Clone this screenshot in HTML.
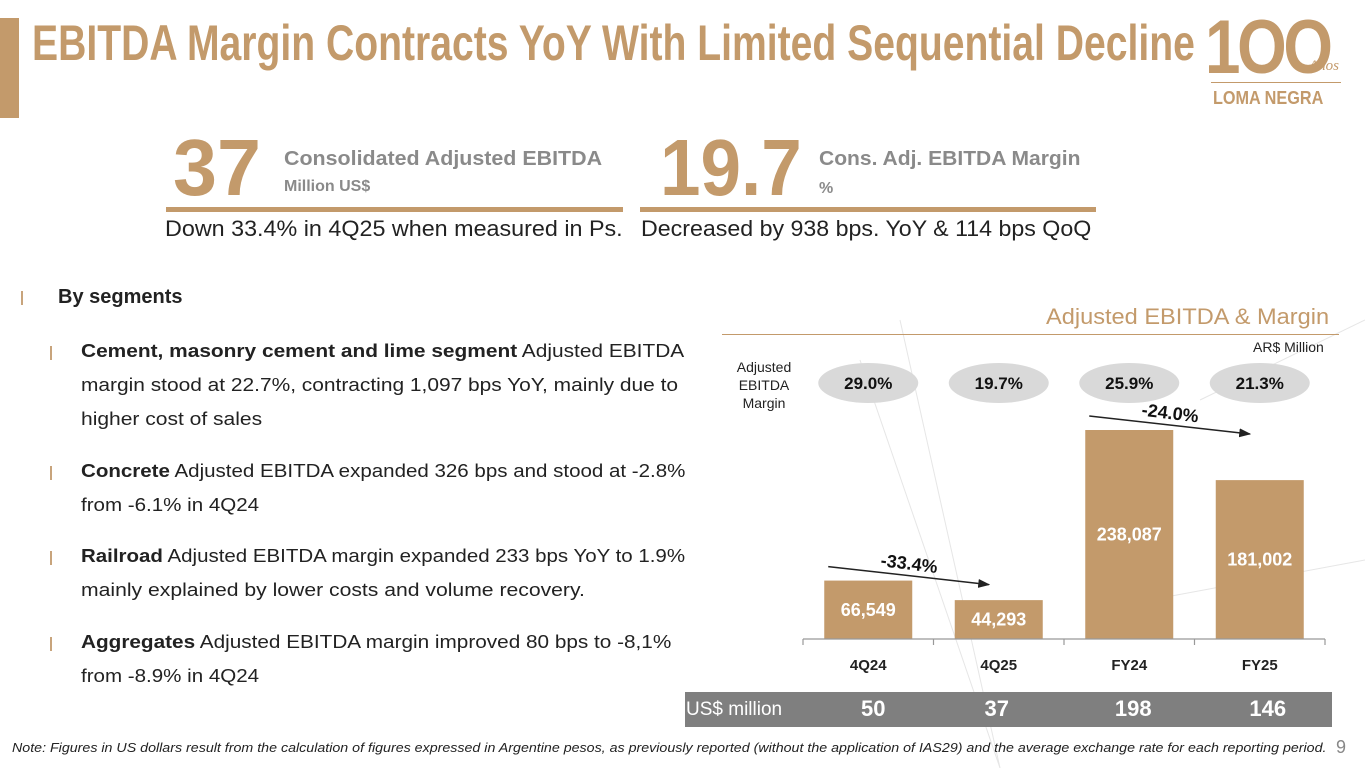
<!DOCTYPE html>
<html><head><meta charset="utf-8">
<style>
body{margin:0;width:1365px;height:768px;overflow:hidden;background:#fff;font-family:"Liberation Sans",sans-serif;position:relative}
.a{position:absolute;white-space:nowrap}
.fit{transform-origin:0 0}
.gold{color:#c39a6b}
.bul{position:absolute;width:2px;height:14px;background:#c8a47c}
.txt{font-size:18px;color:#222}
</style></head><body>
<div class="a" style="left:0;top:18px;width:19px;height:100px;background:#c39a6b"></div>
<div class="a fit gold" data-w="1163" style="left:32px;top:14px;font-size:50px;font-weight:bold">EBITDA Margin Contracts YoY With Limited Sequential Decline</div>
<div class="a" style="left:1205px;top:8px;width:155px;height:100px">
  <div class="a gold fit" data-w="125" style="left:0;top:-4px;font-size:76px;font-weight:bold;letter-spacing:-4px">1OO</div>
  <div class="a gold" style="left:104px;top:50px;font-size:15px;font-style:italic;font-family:'Liberation Serif',serif">Años</div>
  <div class="a" style="left:6px;top:74px;width:130px;height:1px;background:#c39a6b"></div>
  <div class="a gold fit" data-w="110" style="left:8px;top:80px;font-size:18px;font-weight:bold">LOMA NEGRA</div>
</div>

<div class="a fit gold" data-w="88" style="left:173px;top:128px;font-size:80px;font-weight:bold;line-height:1">37</div>
<div class="a fit" data-w="318" style="left:284px;top:148px;font-size:20px;font-weight:bold;color:#8a8a8a">Consolidated Adjusted EBITDA</div>
<div class="a" style="left:284px;top:178px;font-size:16px;font-weight:bold;color:#8a8a8a">Million US$</div>
<div class="a" style="left:166px;top:207px;width:457px;height:5px;background:#c39a6b"></div>
<div class="a fit" data-w="458" style="left:165px;top:216px;font-size:22px;color:#222">Down 33.4% in 4Q25 when measured in Ps.</div>

<div class="a fit gold" data-w="142" style="left:660px;top:128px;font-size:80px;font-weight:bold;line-height:1">19.7</div>
<div class="a fit" data-w="262" style="left:819px;top:148px;font-size:20px;font-weight:bold;color:#8a8a8a">Cons. Adj. EBITDA Margin</div>
<div class="a" style="left:819px;top:180px;font-size:16px;font-weight:bold;color:#8a8a8a">%</div>
<div class="a" style="left:640px;top:207px;width:456px;height:5px;background:#c39a6b"></div>
<div class="a fit" data-w="450" style="left:641px;top:216px;font-size:22px;color:#222">Decreased by 938 bps. YoY &amp; 114 bps QoQ</div>

<div class="bul" style="left:21px;top:291px"></div>
<div class="a" style="left:58px;top:286px;font-size:20px;font-weight:bold;color:#222">By segments</div>
<div id="bullets"></div>

<svg class="a" style="left:0;top:0" width="1365" height="768">
  <g stroke="#e6e6e6" stroke-width="1" fill="none">
    <line x1="860" y1="360" x2="1000" y2="768"/><line x1="1000" y1="768" x2="900" y2="320"/>
    <line x1="1365" y1="560" x2="1150" y2="600"/><line x1="1365" y1="320" x2="1200" y2="400"/>
  </g>
  <g id="chartg"></g>
</svg>
<div class="a fit" data-w="283" style="left:1046px;top:304px;font-size:22px;color:#c39a6b">Adjusted EBITDA &amp; Margin</div>
<div class="a" style="left:722px;top:334px;width:617px;height:1px;background:#c39a6b"></div>
<div class="a" style="left:1253px;top:339px;font-size:14px;color:#222">AR$ Million</div>
<div class="a" style="left:724px;top:358px;width:80px;text-align:center;font-size:14px;line-height:18px;color:#222;white-space:normal">Adjusted<br>EBITDA<br>Margin</div>
<div class="a" style="left:685px;top:692px;width:647px;height:35px;background:#7f7f7f"></div>
<div class="a" style="left:686px;top:699px;font-size:19px;color:#fff">US$ million</div>
<div id="usd"></div>
<div class="a fit" data-w="1315" style="left:12px;top:740px;font-size:13px;font-style:italic;color:#222">Note: Figures in US dollars result from the calculation of figures expressed in Argentine pesos, as previously reported (without the application of IAS29) and the average exchange rate for each reporting period.</div>
<div class="a" style="left:1336px;top:737px;font-size:18px;color:#888">9</div>

<script>
const categories=["4Q24","4Q25","FY24","FY25"];
const ebitdaValues=[66549,44293,238087,181002];
const marginLabels=["29.0%","19.7%","25.9%","21.3%"];
const usdValues=[50,37,198,146];
const changeLabels=["-33.4%","-24.0%"];

const NS="http://www.w3.org/2000/svg";
const g=document.getElementById('chartg');
const x0=803,band=130.5,base=639,ymax=238087,hmax=209,barW=88;
function xc(i){return x0+band*(i+0.5);}
function yv(v){return base-v/ymax*hmax;}
function mk(t,a){const e=document.createElementNS(NS,t);for(const k in a)e.setAttribute(k,a[k]);g.appendChild(e);return e;}
categories.forEach((c,i)=>{
  const r=mk('rect',{x:xc(i)-barW/2,y:yv(ebitdaValues[i]),width:barW,height:base-yv(ebitdaValues[i]),fill:'#c39a6b'});
  
  
  const ly=(yv(ebitdaValues[i])+base)/2;
  const t=mk('text',{x:xc(i),y:ly+6,'text-anchor':'middle',fill:'#fff','font-size':18,'font-weight':'bold'});
  t.textContent=ebitdaValues[i].toLocaleString('en-US');
  
  
  const l=mk('text',{x:xc(i),y:670,'text-anchor':'middle',fill:'#222','font-size':15,'font-weight':'bold'});
  l.textContent=c;
  
  
  const el=mk('ellipse',{cx:xc(i),cy:383,rx:50,ry:20,fill:'#d9d9d9'});
  
  
  const m=mk('text',{x:xc(i),y:389,'text-anchor':'middle',fill:'#111','font-size':17,'font-weight':'bold'});
  m.textContent=marginLabels[i];
  
  
});
const ax=mk('path',{d:`M${x0} ${base}H${x0+band*4}`+[0,1,2,3,4].map(k=>`M${x0+band*k} ${base}v6`).join(''),stroke:'#999','stroke-width':1.2,fill:'none'});


mk('defs',{}).innerHTML='<marker id="ah" markerWidth="8" markerHeight="8" refX="7" refY="4" orient="auto"><path d="M0,1L8,4L0,7z" fill="#222"/></marker>';
[[0,1],[2,3]].forEach((p,k)=>{
  const y1=yv(ebitdaValues[p[0]])-14, y2=y1+18;
  const x1=xc(p[0])-40,x2=xc(p[1])-10;
  const ln=mk('line',{x1:x1,y1:y1,x2:x2,y2:y2,stroke:'#222','stroke-width':1.5,'marker-end':'url(#ah)'});
  
  
  const tx=(x1+x2)/2,ty=(y1+y2)/2-6;
  const t=mk('text',{x:tx,y:ty,'text-anchor':'middle',fill:'#111','font-size':18,'font-weight':'bold',transform:`rotate(7 ${tx} ${ty})`});
  t.textContent=changeLabels[k];
  
  
});
const ud=document.getElementById('usd');
usdValues.forEach((v,i)=>{
  const d=document.createElement('div');
  d.className='a';
  d.style.cssText=`left:${xc(i)-50+(i==0?5:i==1?-2:i==2?4:8)}px;top:696px;width:100px;text-align:center;font-size:22px;font-weight:bold;color:#fff`;
  d.textContent=v;
  
  
  ud.appendChild(d);
});
const bl=document.getElementById('bullets');
const items=[
 [["<b>Cement, masonry cement and lime segment</b> Adjusted EBITDA",603],["margin stood at 22.7%, contracting 1,097 bps YoY, mainly due to",597],["higher cost of sales",181]],
 [["<b>Concrete</b> Adjusted EBITDA expanded 326 bps and stood at -2.8%",604],["from -6.1% in 4Q24",178]],
 [["<b>Railroad</b> Adjusted EBITDA margin expanded 233 bps YoY to 1.9%",604],["mainly explained by lower costs and volume recovery.",504]],
 [["<b>Aggregates</b> Adjusted EBITDA margin improved 80 bps to -8,1%",590],["from -8.9% in 4Q24",178]]
];
const tops=[341,461,546,632];
items.forEach((it,n)=>{
  const y0=tops[n];
  const b=document.createElement('div');b.className='bul';b.style.left='50px';b.style.top=(y0+5)+'px';
  
  
  bl.appendChild(b);
  it.forEach((ln,j)=>{
    const d=document.createElement('div');
    d.className='a fit txt';d.dataset.w=ln[1];
    d.style.left='81px';d.style.top=(y0+j*34)+'px';
    d.innerHTML=ln[0];
    
    
    bl.appendChild(d);
  });
});
document.querySelectorAll('.fit').forEach(e=>{
  const w=+e.dataset.w;if(!w)return;
  const r=e.scrollWidth;if(r>0)e.style.transform=`scaleX(${w/r})`;
});
</script>
</body></html>
